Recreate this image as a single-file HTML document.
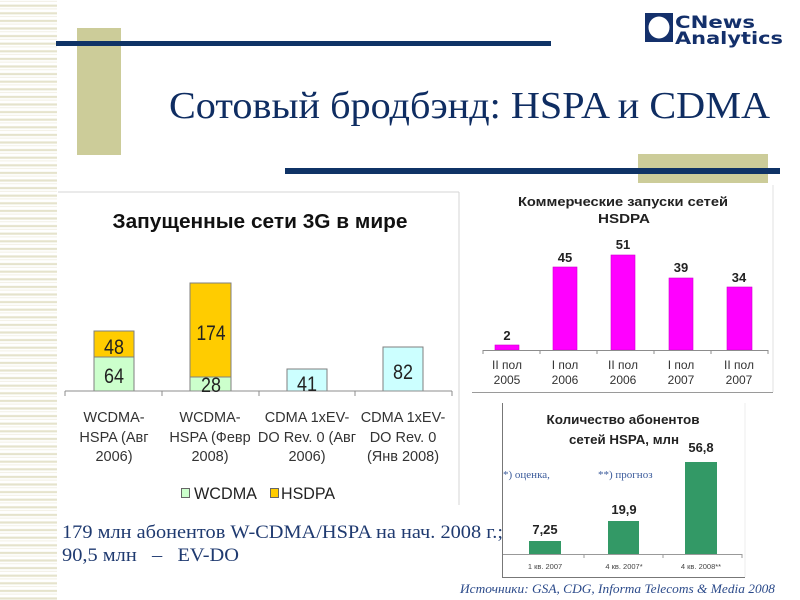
<!DOCTYPE html>
<html><head><meta charset="utf-8"><style>
html,body{margin:0;padding:0;background:#fff;}
svg{display:block;}
text{white-space:pre;}
</style></head><body>
<svg width="800" height="600" viewBox="0 0 800 600" xmlns="http://www.w3.org/2000/svg">
<defs>
<pattern id="st" x="0" y="0" width="57" height="7.6" patternUnits="userSpaceOnUse">
<rect x="0" y="4.6" width="57" height="2.2" fill="#e5e3cc"/>
<rect x="0" y="0.8" width="57" height="1" fill="#f1f0e4"/>
</pattern>
</defs>
<rect x="0" y="0" width="800" height="600" fill="#fff"/>
<rect x="0" y="0" width="57" height="600" fill="url(#st)"/>

<!-- decorations -->
<rect x="77" y="28" width="44" height="127" fill="#cccc99"/>
<rect x="56" y="41" width="495" height="5" fill="#0f3366"/>
<rect x="638" y="154" width="130" height="29" fill="#cccc99"/>
<rect x="285" y="168" width="495" height="6" fill="#0f3366"/>

<!-- logo -->
<rect x="645" y="13" width="28" height="29" fill="#14306b"/>
<ellipse cx="659" cy="27.5" rx="10.5" ry="11" fill="#fff"/>
<text x="675" y="28" font-family="DejaVu Sans, Liberation Sans, sans-serif" font-weight="bold" font-size="17" fill="#14306b" textLength="80" lengthAdjust="spacingAndGlyphs">CNews</text>
<text x="675" y="44" font-family="DejaVu Sans, Liberation Sans, sans-serif" font-weight="bold" font-size="17" fill="#14306b" textLength="108" lengthAdjust="spacingAndGlyphs">Analytics</text>

<!-- title -->
<text x="169" y="118" font-family="Liberation Serif, serif" font-size="38" fill="#0f2d62" textLength="601" lengthAdjust="spacingAndGlyphs">Сотовый бродбэнд: HSPA и CDMA</text>

<!-- LEFT CHART -->
<line x1="58" y1="192" x2="459" y2="192" stroke="#d4d4d4" stroke-width="1"/>
<line x1="459" y1="192" x2="459" y2="505" stroke="#d4d4d4" stroke-width="1"/>
<text x="260" y="228" text-anchor="middle" font-family="Liberation Sans, sans-serif" font-weight="bold" font-size="20" fill="#111" textLength="295" lengthAdjust="spacingAndGlyphs">Запущенные сети 3G в мире</text>

<g stroke="#7f7f7f" stroke-width="1">
<rect x="94" y="357" width="40" height="34" fill="#ccffcc"/>
<rect x="94" y="331" width="40" height="26" fill="#ffcc00"/>
<rect x="190" y="377" width="41" height="14" fill="#ccffcc"/>
<rect x="190" y="283" width="41" height="94" fill="#ffcc00"/>
<rect x="287" y="369" width="40" height="22" fill="#ccffff"/>
<rect x="383" y="347" width="40" height="44" fill="#ccffff"/>
</g>
<g stroke="#8c8c8c" stroke-width="1">
<line x1="65" y1="391" x2="452" y2="391"/>
<line x1="65" y1="391" x2="65" y2="396"/>
<line x1="162" y1="391" x2="162" y2="396"/>
<line x1="259" y1="391" x2="259" y2="396"/>
<line x1="355" y1="391" x2="355" y2="396"/>
<line x1="452" y1="391" x2="452" y2="396"/>
</g>
<g font-family="Liberation Sans, sans-serif" font-size="21" fill="#222" text-anchor="middle">
<text x="114" y="354" textLength="20" lengthAdjust="spacingAndGlyphs">48</text>
<text x="114" y="383" textLength="20" lengthAdjust="spacingAndGlyphs">64</text>
<text x="211" y="340" textLength="29" lengthAdjust="spacingAndGlyphs">174</text>
<text x="211" y="392" textLength="20" lengthAdjust="spacingAndGlyphs">28</text>
<text x="307" y="391" textLength="20" lengthAdjust="spacingAndGlyphs">41</text>
<text x="403" y="379" textLength="20" lengthAdjust="spacingAndGlyphs">82</text>
</g>
<g font-family="Liberation Sans, sans-serif" font-size="14.5" fill="#333" text-anchor="middle">
<text x="114" y="422">WCDMA-</text>
<text x="114" y="442">HSPA (Авг</text>
<text x="114" y="461">2006)</text>
<text x="210" y="422">WCDMA-</text>
<text x="210" y="442">HSPA (Февр</text>
<text x="210" y="461">2008)</text>
<text x="307" y="422">CDMA 1xEV-</text>
<text x="307" y="442">DO Rev. 0 (Авг</text>
<text x="307" y="461">2006)</text>
<text x="403" y="422">CDMA 1xEV-</text>
<text x="403" y="442">DO Rev. 0</text>
<text x="403" y="461">(Янв 2008)</text>
</g>
<rect x="181.5" y="488.5" width="8" height="9" fill="#ccffcc" stroke="#666" stroke-width="1"/>
<text x="194" y="499" font-family="Liberation Sans, sans-serif" font-size="17" fill="#222" textLength="63" lengthAdjust="spacingAndGlyphs">WCDMA</text>
<rect x="270.5" y="488.5" width="8" height="9" fill="#ffcc00" stroke="#666" stroke-width="1"/>
<text x="281" y="499" font-family="Liberation Sans, sans-serif" font-size="17" fill="#222" textLength="54" lengthAdjust="spacingAndGlyphs">HSDPA</text>

<!-- TOP-RIGHT CHART -->
<line x1="773" y1="185" x2="773" y2="392" stroke="#e2e2e2" stroke-width="1"/>
<line x1="472" y1="392.5" x2="773" y2="392.5" stroke="#9a9a9a" stroke-width="1"/>
<text x="623" y="206" text-anchor="middle" font-family="Liberation Sans, sans-serif" font-weight="bold" font-size="12.5" fill="#222" textLength="210" lengthAdjust="spacingAndGlyphs">Коммерческие запуски сетей</text>
<text x="624" y="223" text-anchor="middle" font-family="Liberation Sans, sans-serif" font-weight="bold" font-size="12.5" fill="#222" textLength="52" lengthAdjust="spacingAndGlyphs">HSDPA</text>
<g fill="#ff00ff" stroke="#d000d0" stroke-width="0.6">
<rect x="495" y="345" width="24" height="5"/>
<rect x="553" y="267" width="24" height="83"/>
<rect x="611" y="255" width="24" height="95"/>
<rect x="669" y="278" width="24" height="72"/>
<rect x="727" y="287" width="25" height="63"/>
</g>
<g stroke="#8c8c8c" stroke-width="1">
<line x1="483" y1="350.5" x2="768" y2="350.5"/>
<line x1="483" y1="350" x2="483" y2="354"/>
<line x1="540" y1="350" x2="540" y2="354"/>
<line x1="597" y1="350" x2="597" y2="354"/>
<line x1="654" y1="350" x2="654" y2="354"/>
<line x1="711" y1="350" x2="711" y2="354"/>
<line x1="768" y1="350" x2="768" y2="354"/>
</g>
<g font-family="Liberation Sans, sans-serif" font-weight="bold" font-size="13" fill="#222" text-anchor="middle">
<text x="507" y="340">2</text>
<text x="565" y="262">45</text>
<text x="623" y="249">51</text>
<text x="681" y="272">39</text>
<text x="739" y="282">34</text>
</g>
<g font-family="Liberation Sans, sans-serif" font-size="12" fill="#333" text-anchor="middle">
<text x="507" y="369">II пол</text><text x="507" y="384">2005</text>
<text x="565" y="369">I пол</text><text x="565" y="384">2006</text>
<text x="623" y="369">II пол</text><text x="623" y="384">2006</text>
<text x="681" y="369">I пол</text><text x="681" y="384">2007</text>
<text x="739" y="369">II пол</text><text x="739" y="384">2007</text>
</g>

<!-- BOTTOM-RIGHT CHART -->
<line x1="745" y1="403" x2="745" y2="577" stroke="#ececec" stroke-width="1"/>
<line x1="502.5" y1="403" x2="502.5" y2="577" stroke="#777" stroke-width="1"/>
<line x1="502" y1="577.5" x2="745" y2="577.5" stroke="#777" stroke-width="1"/>
<text x="623" y="424" text-anchor="middle" font-family="Liberation Sans, sans-serif" font-weight="bold" font-size="13" fill="#222" textLength="153" lengthAdjust="spacingAndGlyphs">Количество абонентов</text>
<text x="624" y="444" text-anchor="middle" font-family="Liberation Sans, sans-serif" font-weight="bold" font-size="13" fill="#222" textLength="110" lengthAdjust="spacingAndGlyphs">сетей HSPA, млн</text>
<g fill="#339966">
<rect x="529" y="541" width="32" height="13"/>
<rect x="608" y="521" width="31" height="33"/>
<rect x="685" y="462" width="32" height="92"/>
</g>
<g stroke="#999" stroke-width="1">
<line x1="503" y1="554.5" x2="742" y2="554.5"/>
<line x1="584" y1="554" x2="584" y2="558"/>
<line x1="663" y1="554" x2="663" y2="558"/>
<line x1="742" y1="554" x2="742" y2="558"/>
</g>
<g font-family="Liberation Sans, sans-serif" font-weight="bold" font-size="13" fill="#222" text-anchor="middle">
<text x="545" y="534">7,25</text>
<text x="624" y="514">19,9</text>
<text x="701" y="452">56,8</text>
</g>
<g font-family="Liberation Sans, sans-serif" font-size="7.5" fill="#444" text-anchor="middle">
<text x="545" y="569">1 кв. 2007</text>
<text x="624" y="569">4 кв. 2007*</text>
<text x="701" y="569">4 кв. 2008**</text>
</g>
<g font-family="Liberation Serif, serif" font-size="11" fill="#3b5b9b">
<text x="503" y="478">*) оценка,</text>
<text x="598" y="478">**) прогноз</text>
</g>

<!-- bottom text -->
<text x="62" y="538" font-family="Liberation Serif, serif" font-size="19" fill="#1f3a70" textLength="441" lengthAdjust="spacingAndGlyphs">179 млн абонентов W-CDMA/HSPA на нач. 2008 г.;</text>
<text x="62" y="561" font-family="Liberation Serif, serif" font-size="19" fill="#1f3a70" textLength="177" lengthAdjust="spacingAndGlyphs">90,5 млн   –   EV-DO</text>
<text x="460" y="593" font-family="Liberation Serif, serif" font-style="italic" font-size="13" fill="#2b4a8a" textLength="315" lengthAdjust="spacingAndGlyphs">Источники: GSA, CDG, Informa Telecoms &amp; Media 2008</text>
</svg>
</body></html>
